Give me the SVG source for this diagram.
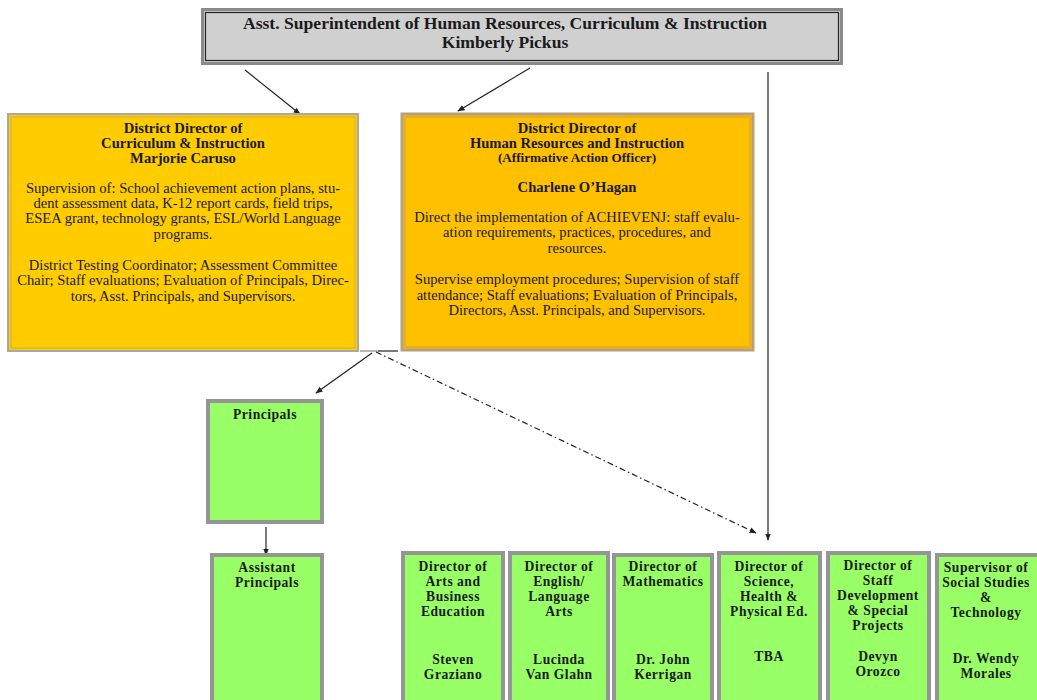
<svg xmlns="http://www.w3.org/2000/svg" width="1037" height="700" viewBox="0 0 1037 700">
<style>
text{font-family:"Liberation Serif","Times New Roman",serif;fill:#1a1a1a;text-anchor:middle}
.t{font-family:"Liberation Serif","Times New Roman",serif;font-size:17.6px;font-weight:bold}
.h{font-size:14.6px;font-weight:bold}
.s{font-size:13.2px;font-weight:bold}
.b{font-size:14.6px}
.n{font-size:13.6px;font-weight:bold;letter-spacing:0.5px}
.g{fill:#99ff66;stroke:#959595;stroke-width:4}
.c{stroke:#222;stroke-width:1.2;fill:none}
</style>
<defs>
<marker id="ah" viewBox="0 0 10 10" refX="9" refY="5" markerWidth="6" markerHeight="6" orient="auto-start-reverse">
<path d="M0,1 L10,5 L0,9 z" fill="#222"/>
</marker>
</defs>
<rect width="1037" height="700" fill="#fff"/>

<g id="connectors">
<line class="c" x1="245" y1="70" x2="300" y2="114" marker-end="url(#ah)"/>
<line class="c" x1="530" y1="68" x2="458" y2="111" marker-end="url(#ah)"/>
<line x1="514" y1="49" x2="520" y2="55" stroke="#222" stroke-width="1.2"/>
<line class="c" x1="768" y1="72" x2="768" y2="540" marker-end="url(#ah)"/>
<line x1="360" y1="351" x2="378" y2="351" stroke="#888" stroke-width="1.2"/>
<line x1="378" y1="351" x2="398" y2="351" stroke="#222" stroke-width="1.2"/>
<line class="c" x1="372" y1="353" x2="316" y2="393" marker-end="url(#ah)"/>
<line class="c" x1="376" y1="352" x2="756" y2="533" stroke-dasharray="6,3,1.5,3" marker-end="url(#ah)"/>
<line class="c" x1="266" y1="527" x2="266" y2="555" marker-end="url(#ah)"/>
</g>

<g id="asst-superintendent">
<rect x="202.5" y="9.5" width="639" height="54" fill="#d0d0d0" stroke="#8a8a8a" stroke-width="3"/>
<rect x="205.5" y="12.5" width="633" height="48" fill="none" stroke="#222" stroke-width="1.2"/>
<text class="t" x="505" y="29">Asst. Superintendent of Human Resources, Curriculum &amp; Instruction</text>
<text class="t" x="505" y="48">Kimberly Pickus</text>
</g>

<g id="director-curriculum">
<rect x="8" y="114" width="350" height="237" fill="#ffcc00" stroke="#a8a8a8" stroke-width="2"/>
<rect x="11" y="117" width="344" height="231" fill="none" stroke="#c8a860" stroke-width="1"/>
<text class="h" x="183" y="133">District Director of</text>
<text class="h" x="183" y="148">Curriculum &amp; Instruction</text>
<text class="h" x="183" y="163">Marjorie Caruso</text>
<text class="b" x="183" y="193">Supervision of: School achievement action plans, stu-</text>
<text class="b" x="183" y="208">dent assessment data, K-12 report cards, field trips,</text>
<text class="b" x="183" y="223">ESEA grant, technology grants, ESL/World Language</text>
<text class="b" x="183" y="239">programs.</text>
<text class="b" x="183" y="270">District Testing Coordinator; Assessment Committee</text>
<text class="b" x="183" y="285">Chair; Staff evaluations; Evaluation of Principals, Direc-</text>
<text class="b" x="183" y="301">tors, Asst. Principals, and Supervisors.</text>
</g>

<g id="director-hr">
<rect x="402" y="114" width="351" height="236" fill="#ffc000" stroke="#b8a078" stroke-width="3"/>
<rect x="405" y="117" width="345" height="230" fill="none" stroke="#d0a040" stroke-width="1"/>
<text class="h" x="577" y="133">District Director of</text>
<text class="h" x="577" y="148">Human Resources and Instruction</text>
<text class="s" x="577" y="162">(Affirmative Action Officer)</text>
<text class="h" x="577" y="192">Charlene O’Hagan</text>
<text class="b" x="577" y="222">Direct the implementation of ACHIEVENJ: staff evalu-</text>
<text class="b" x="577" y="237">ation requirements, practices, procedures, and</text>
<text class="b" x="577" y="253">resources.</text>
<text class="b" x="577" y="284">Supervise employment procedures; Supervision of staff</text>
<text class="b" x="577" y="300">attendance; Staff evaluations; Evaluation of Principals,</text>
<text class="b" x="577" y="315">Directors, Asst. Principals, and Supervisors.</text>
</g>

<g id="principals">
<rect class="g" x="208" y="401" width="114" height="121"/>
<text class="n" x="265" y="419">Principals</text>
</g>

<g id="assistant-principals">
<rect class="g" x="212" y="555" width="110" height="150"/>
<text class="n" x="267" y="572">Assistant</text>
<text class="n" x="267" y="587">Principals</text>
</g>

<g id="dir-arts">
<rect class="g" x="403" y="553" width="100" height="152"/>
<text class="n" x="453" y="571">Director of</text>
<text class="n" x="453" y="586">Arts and</text>
<text class="n" x="453" y="601">Business</text>
<text class="n" x="453" y="616">Education</text>
<text class="n" x="453" y="664">Steven</text>
<text class="n" x="453" y="679">Graziano</text>
</g>

<g id="dir-english">
<rect class="g" x="510" y="553" width="98" height="152"/>
<text class="n" x="559" y="571">Director of</text>
<text class="n" x="559" y="586">English/</text>
<text class="n" x="559" y="601">Language</text>
<text class="n" x="559" y="616">Arts</text>
<text class="n" x="559" y="664">Lucinda</text>
<text class="n" x="559" y="679">Van Glahn</text>
</g>

<g id="dir-math">
<rect class="g" x="614" y="555" width="98" height="150"/>
<text class="n" x="663" y="571">Director of</text>
<text class="n" x="663" y="586">Mathematics</text>
<text class="n" x="663" y="664">Dr. John</text>
<text class="n" x="663" y="679">Kerrigan</text>
</g>

<g id="dir-science">
<rect class="g" x="719" y="553" width="101" height="152"/>
<text class="n" x="769" y="571">Director of</text>
<text class="n" x="769" y="586">Science,</text>
<text class="n" x="769" y="601">Health &amp;</text>
<text class="n" x="769" y="616">Physical Ed.</text>
<text class="n" x="769" y="661">TBA</text>
</g>

<g id="dir-staff-dev">
<rect class="g" x="828" y="553" width="101" height="152"/>
<text class="n" x="878" y="570">Director of</text>
<text class="n" x="878" y="585">Staff</text>
<text class="n" x="878" y="600">Development</text>
<text class="n" x="878" y="615">&amp; Special</text>
<text class="n" x="878" y="630">Projects</text>
<text class="n" x="878" y="661">Devyn</text>
<text class="n" x="878" y="676">Orozco</text>
</g>

<g id="sup-social-studies">
<rect class="g" x="937" y="555" width="102" height="150"/>
<text class="n" x="986" y="572">Supervisor of</text>
<text class="n" x="986" y="587">Social Studies</text>
<text class="n" x="986" y="602">&amp;</text>
<text class="n" x="986" y="617">Technology</text>
<text class="n" x="986" y="663">Dr. Wendy</text>
<text class="n" x="986" y="678">Morales</text>
</g>
</svg>
